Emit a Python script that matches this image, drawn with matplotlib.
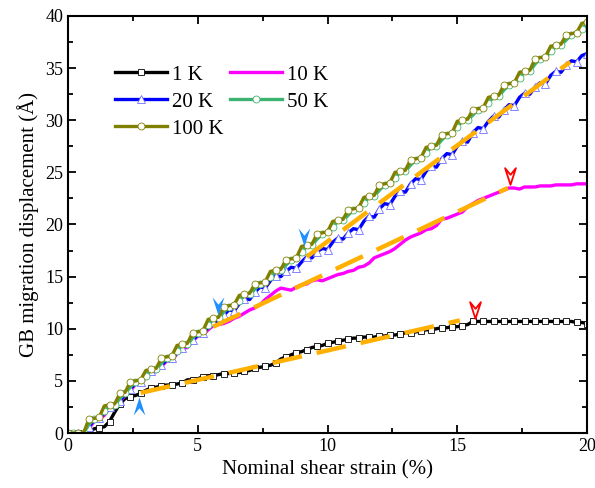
import numpy as np
import matplotlib.pyplot as plt
from matplotlib.path import Path

plt.rcParams['font.family'] = ['Liberation Serif', 'DejaVu Serif']

# strain samples (%), every 0.2 %
strain = np.linspace(0, 20, 101)

y_1K = [0, 0, 0, 0, 0, 0.4, 0.5, 0.6, 1.1, 2.0,
        2.8, 3.3, 3.5, 3.6, 3.8, 4.1, 4.3, 4.4, 4.5, 4.6,
        4.6, 4.7, 4.8, 5.1, 5.1, 5.2, 5.4, 5.5, 5.5, 5.6,
        5.7, 5.7, 5.8, 5.8, 5.9, 6.0, 6.2, 6.3, 6.4, 6.5,
        6.7, 7.1, 7.3, 7.5, 7.7, 7.8, 8.0, 8.2, 8.3, 8.4,
        8.6, 8.7, 8.8, 8.9, 9.0, 9.1, 9.1, 9.2, 9.2, 9.2,
        9.3, 9.3, 9.4, 9.4, 9.5, 9.6, 9.6, 9.7, 9.8, 9.9,
        9.9, 10.0, 10.1, 10.1, 10.2, 10.2, 10.3, 10.4, 10.7, 10.7,
        10.7, 10.7, 10.7, 10.7, 10.7, 10.7, 10.7, 10.7, 10.7, 10.7,
        10.7, 10.7, 10.7, 10.7, 10.7, 10.7, 10.7, 10.7, 10.6, 10.6, 10.5]

y_10K = [0, 0, 0, 0, 0.4, 1.1, 1.3, 1.7, 2.4, 2.6,
         3.0, 3.6, 4.0, 4.7, 4.8, 5.3, 5.8, 5.9, 6.4, 6.9,
         7.0, 7.6, 8.1, 8.2, 8.8, 9.3, 9.4, 9.9, 10.3, 10.4,
         10.5, 10.7, 11.0, 11.2, 11.5, 11.8, 12.0, 12.3, 12.8, 13.2,
         13.6, 13.9, 13.8, 13.7, 14.0, 14.2, 14.3, 14.6, 14.7, 14.6,
         14.8, 15.0, 15.2, 15.3, 15.5, 15.6, 15.9, 16.0, 16.3, 16.8,
         17.0, 17.2, 17.4, 17.7, 18.1, 18.5, 18.8, 19.0, 19.2, 19.5,
         19.6, 19.9, 20.5, 20.6, 20.8, 21.0, 21.2, 21.7, 22.0, 22.3,
         22.5, 22.7, 22.9, 23.1, 23.3, 23.5, 23.5, 23.4, 23.6, 23.6,
         23.6, 23.7, 23.7, 23.7, 23.8, 23.8, 23.8, 23.8, 23.9, 23.9, 23.9]

y_20K = [0, 0, 0, 0, 0.6, 1.2, 1.4, 1.9, 2.5, 2.6,
         3.1, 3.7, 4.2, 4.8, 4.9, 5.4, 5.9, 6.0, 6.5, 7.0,
         7.2, 7.7, 8.2, 8.4, 8.9, 9.4, 9.6, 10.1, 10.6, 10.7,
         11.3, 11.8, 11.7, 12.4, 12.9, 12.8, 13.5, 14.0, 13.9, 14.6,
         15.1, 15.0, 15.5, 15.9, 15.8, 16.4, 16.9, 16.8, 17.4, 17.7,
         17.6, 18.3, 18.7, 18.6, 19.2, 19.6, 19.5, 20.3, 20.8, 20.7,
         21.5, 22.0, 21.9, 22.7, 23.2, 23.1, 23.9, 24.4, 24.3, 25.1,
         25.6, 25.5, 26.3, 26.8, 26.7, 27.5, 28.0, 27.9, 28.8, 29.3,
         29.2, 29.9, 30.4, 30.3, 31.0, 31.5, 31.4, 32.2, 32.6, 32.5,
         33.2, 33.6, 33.5, 34.3, 34.7, 34.6, 35.3, 35.7, 35.6, 36.2, 36.4]

y_50K = [0, 0, 0, 0, 0.8, 1.3, 1.4, 2.1, 2.6, 2.7,
         3.3, 3.8, 4.4, 4.9, 5.0, 5.5, 6.0, 6.1, 6.7, 7.2,
         7.3, 7.9, 8.4, 8.5, 9.1, 9.6, 9.7, 10.4, 10.9, 11.0,
         11.6, 12.1, 12.2, 12.7, 13.2, 13.3, 13.8, 14.3, 14.4, 15.0,
         15.5, 15.6, 16.1, 16.6, 16.7, 17.4, 17.9, 18.0, 18.6, 19.1,
         19.2, 19.8, 20.3, 20.4, 20.9, 21.4, 21.5, 22.1, 22.6, 22.7,
         23.3, 23.8, 23.9, 24.5, 25.0, 25.1, 25.7, 26.2, 26.3, 26.9,
         27.4, 27.5, 28.1, 28.6, 28.7, 29.4, 29.9, 30.0, 30.5, 31.0,
         31.1, 31.7, 32.2, 32.3, 32.9, 33.4, 33.5, 34.1, 34.6, 34.7,
         35.4, 35.9, 36.0, 36.6, 37.1, 37.2, 37.7, 38.2, 38.3, 38.8, 39.2]

y_100K = [0, 0, 0, 0, 1.3, 1.4, 1.5, 2.6, 2.7, 2.8,
          3.8, 3.9, 4.9, 5.0, 5.1, 6.0, 6.1, 6.2, 7.2, 7.3,
          7.4, 8.4, 8.5, 8.6, 9.6, 9.7, 9.8, 10.9, 11.0, 11.1,
          12.1, 12.2, 12.3, 13.2, 13.3, 13.4, 14.3, 14.4, 14.5, 15.5,
          15.6, 15.7, 16.6, 16.7, 16.8, 17.9, 18.0, 18.1, 19.1, 19.2,
          19.3, 20.3, 20.4, 20.5, 21.4, 21.5, 21.6, 22.6, 22.7, 22.8,
          23.8, 23.9, 24.0, 25.0, 25.1, 25.2, 26.2, 26.3, 26.4, 27.4,
          27.5, 27.6, 28.6, 28.7, 28.8, 29.9, 30.0, 30.1, 31.0, 31.1,
          31.2, 32.2, 32.3, 32.4, 33.4, 33.5, 33.6, 34.6, 34.7, 34.8,
          35.9, 36.0, 36.1, 37.1, 37.2, 37.3, 38.2, 38.3, 38.4, 39.3, 39.4]

# linear fits (start, end)
fit_x = [[2.8, 15.1], [5.6, 16.95], [9.2, 19.35]]
fit_y = [[3.85, 10.8], [10.2, 23.5], [16.9, 35.6]]

# arrow markers
blue_up_x, blue_up_y = [2.73], [2.6]
blue_down_x, blue_down_y = [5.77, 9.1], [12.15, 18.8]
red_down_x, red_down_y = [15.7, 17.05], [11.8, 24.7]

down_arrow = Path([(0, -1), (-0.65, 1), (0, 0.2), (0.65, 1), (0, -1)],
                  [Path.MOVETO, Path.LINETO, Path.LINETO, Path.LINETO, Path.CLOSEPOLY])
up_arrow = Path([(0, 1), (-0.65, -1), (0, -0.2), (0.65, -1), (0, 1)],
                [Path.MOVETO, Path.LINETO, Path.LINETO, Path.LINETO, Path.CLOSEPOLY])

fig = plt.figure(figsize=(5.95, 4.88), dpi=100)
ax = fig.add_axes([68 / 595, 1 - 433 / 488, 519 / 595, 417 / 488])

lw = 2.4
h1, = ax.plot(strain, y_1K, color='black', lw=lw, marker='s', ms=5, mfc='white',
              mec='black', mew=0.6, markevery=2, label='1 K')
h10, = ax.plot(strain, y_10K, color='#FF00FF', lw=lw, label='10 K')
h20, = ax.plot(strain, y_20K, color='#0000FF', lw=lw, marker='^', ms=5.5, mfc='white',
               mec='#7070FF', mew=0.6, markevery=2, label='20 K')
h50, = ax.plot(strain, y_50K, color='#3CB371', lw=lw, marker='o', ms=5, mfc='white',
               mec='#3CB371', mew=0.6, markevery=(1, 2), label='50 K')
h100, = ax.plot(strain, y_100K, color='#808000', lw=lw, marker='o', ms=5, mfc='white',
                mec='#808000', mew=0.6, markevery=2, label='100 K')

for fx, fy in zip(fit_x, fit_y):
    ax.plot(fx, fy, color='#FFB000', lw=3.2, dashes=(6.75, 3.4), solid_capstyle='butt',
            zorder=5)

ax.plot(blue_up_x, blue_up_y, ls='none', marker=up_arrow, ms=13, color='#1E90FF', mew=0, zorder=6)
ax.plot(blue_down_x, blue_down_y, ls='none', marker=down_arrow, ms=13, color='#1E90FF', mew=0, zorder=6)
ax.plot(red_down_x, red_down_y, ls='none', marker=down_arrow, ms=12, mfc='white',
        mec='#FF0000', mew=1.3, zorder=6)

ax.set_xlim(0, 20)
ax.set_ylim(0, 40)
ax.set_xticks([0, 5, 10, 15, 20])
ax.set_xticks(np.arange(0, 20.1, 2.5), minor=True)
ax.set_yticks(np.arange(0, 41, 5))
ax.set_yticks(np.arange(0, 41, 2.5), minor=True)
ax.tick_params(which='both', direction='in', top=True, right=True, labelsize=13, width=1.3)
ax.tick_params(which='major', length=6)
ax.tick_params(which='minor', length=3.5)
for s in ax.spines.values():
    s.set_linewidth(1.5)

ax.set_xlabel('Nominal shear strain (%)', fontsize=15, labelpad=4)
ax.set_ylabel('GB migration displacement (Å)', fontsize=15, labelpad=4)

ax.legend(handles=[h1, h20, h100, h10, h50], ncol=2, frameon=False, fontsize=15,
          loc='upper left', bbox_to_anchor=(0.09, 0.882), borderaxespad=0, borderpad=0,
          handlelength=2.5, handletextpad=0.25, columnspacing=0.3, labelspacing=0.35)

fig.savefig('out.png', dpi=100)
